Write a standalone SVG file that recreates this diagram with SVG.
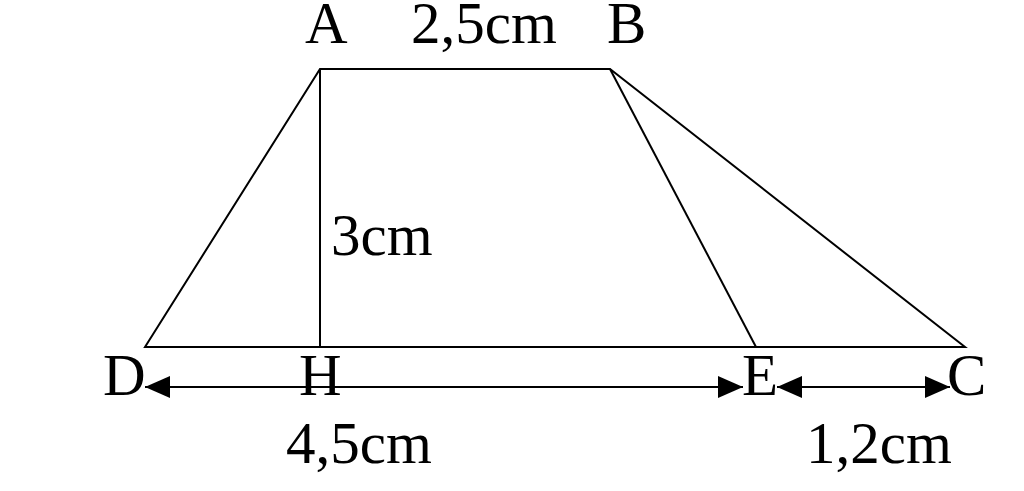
<svg xmlns="http://www.w3.org/2000/svg" width="1024" height="491" viewBox="0 0 1024 491">
<defs>
<style>
.ln{stroke:#000;stroke-width:2;fill:none}
.t{font-family:"Liberation Serif","Times New Roman",serif;font-size:59px;fill:#000}
</style>
<marker id="ah" viewBox="0 0 25 22" refX="25" refY="11" markerWidth="25" markerHeight="22" markerUnits="userSpaceOnUse" orient="auto-start-reverse">
<path d="M0,0 L25,11 L0,22 Z" fill="#000"/>
</marker>
</defs>
<rect width="1024" height="491" fill="#fff"/>
<g id="figure">
<path class="ln" d="M145,347 L320,69 L610,69 L965,347 Z"/>
<line class="ln" x1="320" y1="69" x2="320" y2="347"/>
<line class="ln" x1="610" y1="69" x2="756" y2="347"/>
</g>
<g id="connectors">
<line class="ln" x1="145" y1="387" x2="743" y2="387" marker-start="url(#ah)" marker-end="url(#ah)"/>
<line class="ln" x1="777" y1="387" x2="950" y2="387" marker-start="url(#ah)" marker-end="url(#ah)"/>
</g>
<g id="labels">
<text class="t" x="305" y="43">A</text>
<text class="t" x="411" y="43">2,5cm</text>
<text class="t" x="607" y="43">B</text>
<text class="t" x="331" y="255">3cm</text>
<text class="t" x="103" y="395">D</text>
<text class="t" x="299" y="395">H</text>
<text class="t" x="742" y="395">E</text>
<text class="t" x="947" y="395">C</text>
<text class="t" x="286" y="463">4,5cm</text>
<text class="t" x="806" y="463">1,2cm</text>
</g>
</svg>
